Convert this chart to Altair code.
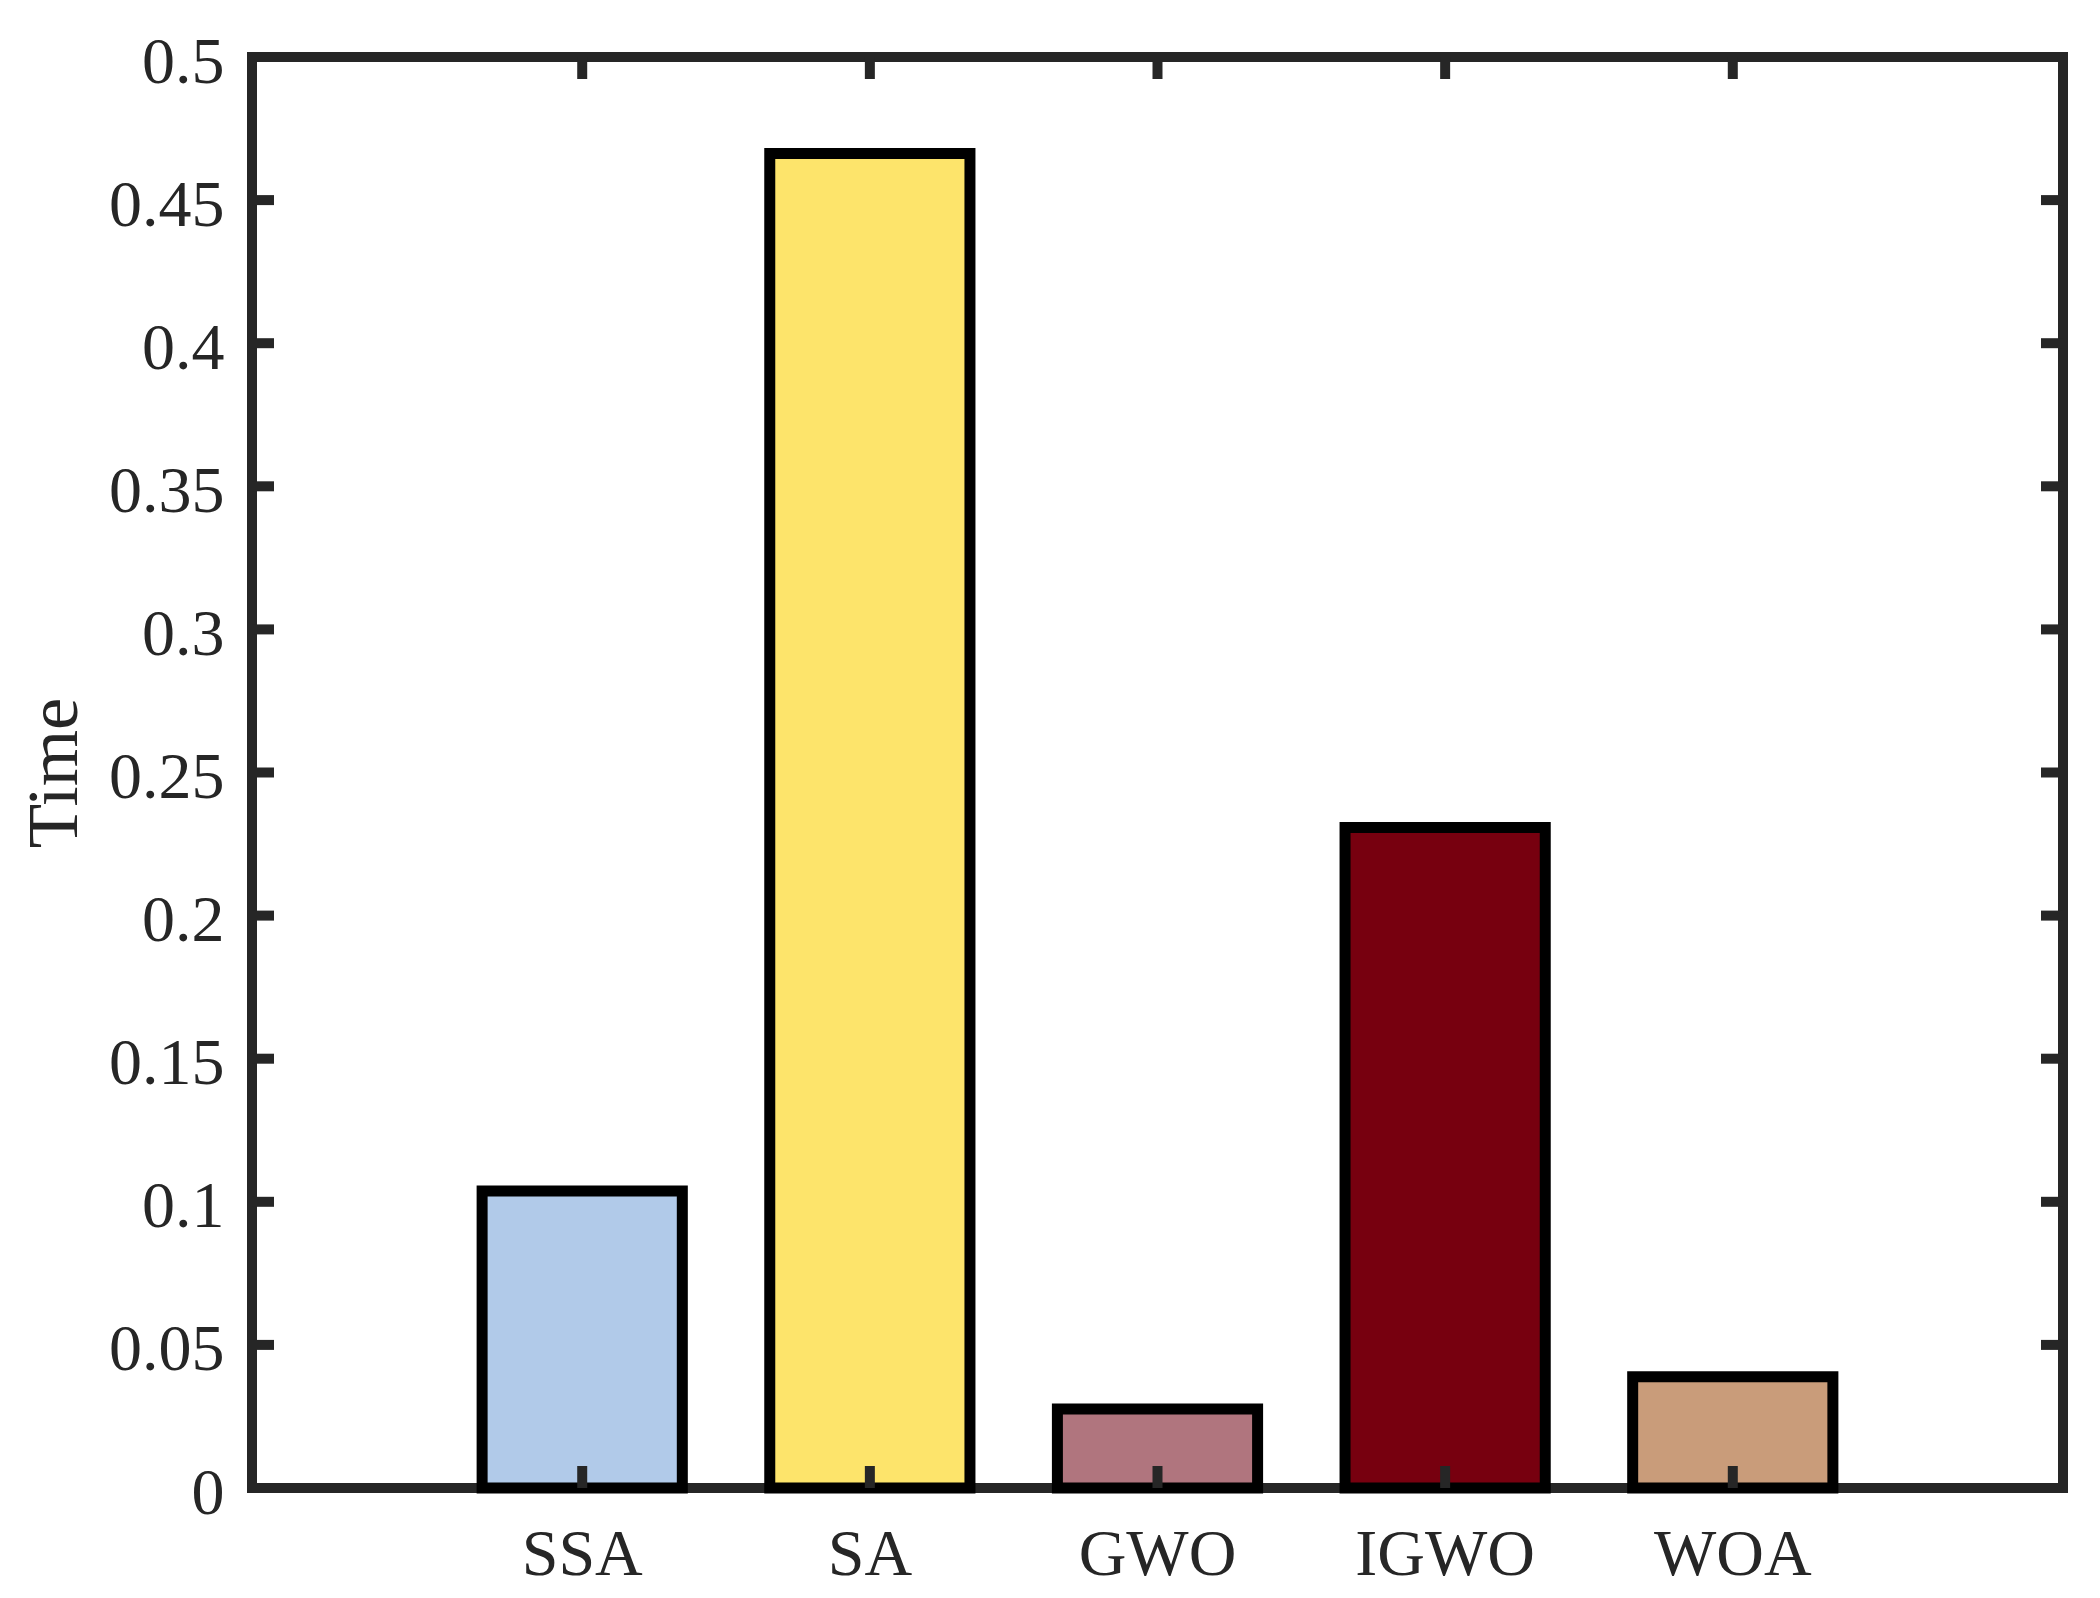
import altair as alt
import pandas as pd

# ---- data ----
algorithms = ["SSA", "SA", "GWO", "IGWO", "WOA"]
times = [0.1038, 0.4663, 0.0276, 0.2308, 0.0389]
bar_colors = ["#B1CAE9", "#FDE46B", "#B0757E", "#77000F", "#C99C7A"]
y_tick_values = [0, 0.05, 0.1, 0.15, 0.2, 0.25, 0.3, 0.35, 0.4, 0.45, 0.5]

W, H = 1811, 1431
FRAME = "#262626"
FONT = "Liberation Serif"
TICK_LEN = 22

bars_df = pd.DataFrame({"Algorithm": algorithms, "Time": times})
yticks_df = pd.DataFrame({"v": y_tick_values})
xticks_df = pd.DataFrame({"Algorithm": algorithms})

x_scale = alt.Scale(domain=algorithms, paddingInner=0.304, paddingOuter=0.8)
y_scale = alt.Scale(domain=[0, 0.5], nice=False)

bars = alt.Chart(bars_df).mark_bar(
    stroke="black", strokeWidth=11, strokeJoin="miter"
).encode(
    x=alt.X("Algorithm:N", scale=x_scale, sort=algorithms,
            axis=alt.Axis(title=None, labelAngle=0, domain=False, ticks=False,
                          tickSize=0, labelPadding=34, labelFont=FONT,
                          labelFontSize=66, labelColor=FRAME)),
    y=alt.Y("Time:Q", scale=y_scale,
            axis=alt.Axis(title="Time", values=y_tick_values, format="~g",
                          domain=False, ticks=False, tickSize=0, grid=False,
                          labelPadding=28, labelFont=FONT, labelFontSize=66,
                          labelColor=FRAME, labelOverlap=False, labelFlush=False,
                          labelOffset=5,
                          titleFont=FONT, titleFontSize=72.6,
                          titleFontWeight="normal", titleColor=FRAME,
                          titlePadding=17)),
    color=alt.Color("Algorithm:N", scale=alt.Scale(domain=algorithms, range=bar_colors),
                    legend=None),
)

rule_style = dict(color=FRAME, strokeWidth=10, strokeCap="butt")

yticks_left = alt.Chart(yticks_df).mark_rule(**rule_style).encode(
    y=alt.Y("v:Q", scale=y_scale), x=alt.value(0), x2=alt.value(TICK_LEN))
yticks_right = alt.Chart(yticks_df).mark_rule(**rule_style).encode(
    y=alt.Y("v:Q", scale=y_scale), x=alt.value(W), x2=alt.value(W - TICK_LEN))
xticks_bottom = alt.Chart(xticks_df).mark_rule(**rule_style).encode(
    x=alt.X("Algorithm:N", scale=x_scale, sort=algorithms),
    y=alt.value(H), y2=alt.value(H - TICK_LEN))
xticks_top = alt.Chart(xticks_df).mark_rule(**rule_style).encode(
    x=alt.X("Algorithm:N", scale=x_scale, sort=algorithms),
    y=alt.value(0), y2=alt.value(TICK_LEN))

chart = alt.layer(
    bars, yticks_left, yticks_right, xticks_bottom, xticks_top
).properties(
    width=W, height=H, background="white",
    padding={"left": 10, "top": 21, "right": 5, "bottom": 5},
).configure_view(
    stroke=FRAME, strokeWidth=10, fill="white"
)

chart.save("out.html", embed_options={"renderer": "svg", "actions": False})
